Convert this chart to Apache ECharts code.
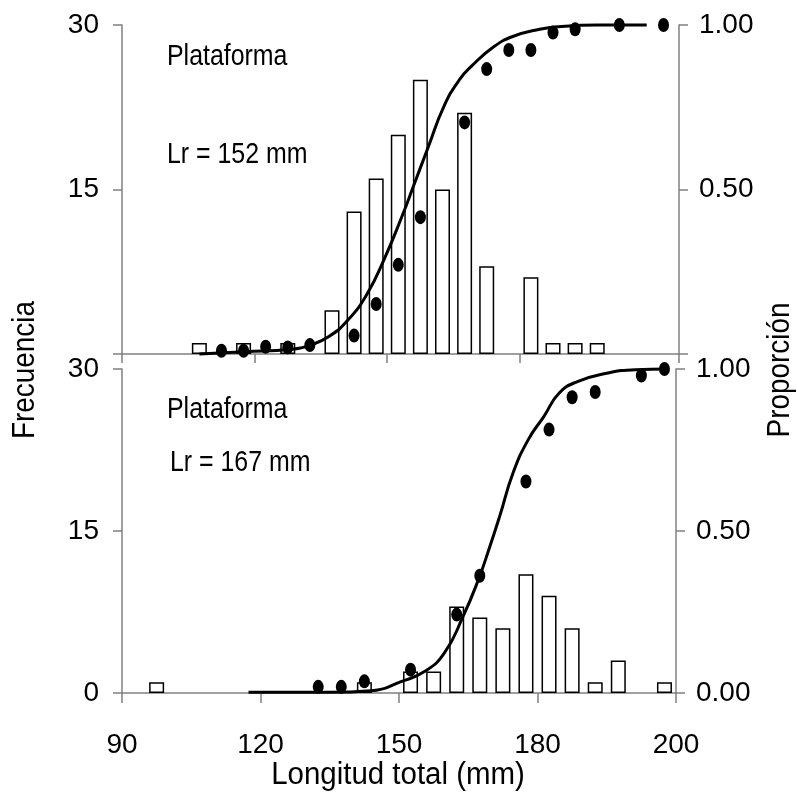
<!DOCTYPE html>
<html>
<head>
<meta charset="utf-8">
<script src="https://cdn.jsdelivr.net/npm/echarts@6/dist/echarts.min.js"></script>
<style>
html,body{margin:0;padding:0;background:#fff;}
#chart{width:797px;height:797px;}
</style>
</head>
<body>
<div id="chart"></div>
<script>
// ---- data ----
const topBarX = [107.5,117.5,127.5,137.5,142.5,147.5,152.5,157.5,162.5,167.5,172.5,182.5,187.5,192.5,197.5];
const topBarFreq = [1,1,1,4,13,16,20,25,15,22,8,7,1,1,1];
const topDotX = [112.5,117.5,122.5,127.5,132.5,142.5,147.5,152.5,157.5,167.5,172.5,177.5,182.5,187.5,192.5,202.5,212.5];
const topDotP = [0.01,0.01,0.022,0.02,0.027,0.056,0.152,0.271,0.416,0.704,0.866,0.924,0.924,0.977,0.987,1.0,1.0];
const topCurveX = [107.5,117.7,128.1,132.6,136.8,141.1,145.5,149.4,153.3,155.9,159.3,162.8,166.3,169.3,174.1,178.4,184.5,188.8,197.5,208.7];
const topCurveP = [0.0,0.007,0.014,0.027,0.053,0.103,0.184,0.291,0.417,0.509,0.63,0.752,0.833,0.878,0.934,0.965,0.987,0.995,1.0,1.0];

const botBarX = [97.5,142.5,152.5,157.5,162.5,167.5,172.5,177.5,182.5,187.5,192.5,197.5,207.5];
const botBarFreq = [1,1,2,2,8,7,6,11,9,6,1,3,1];
const botDotX = [132.5,137.5,142.5,152.5,162.5,167.5,177.5,182.5,187.5,192.5,202.5,207.5];
const botDotP = [0.019,0.019,0.036,0.072,0.242,0.362,0.653,0.813,0.913,0.929,0.98,1.0];
const botCurveX = [117.4,134.9,144.0,150.6,155.6,159.8,163.9,167.2,169.7,171.8,174.7,178.0,181.4,184.7,188.8,194.7,201.3,207.9];
const botCurveP = [0.002,0.002,0.007,0.036,0.067,0.123,0.237,0.35,0.453,0.545,0.679,0.782,0.854,0.926,0.962,0.986,0.998,1.0];

const topXTicks = [90,120,150,180,216];
const botXTicks = [90,120,150,180,210];
const xTickLabels = ['90','120','150','180','200'];
const freqTicksTop = ['', '15', '30'];
const freqTicksBot = ['0', '15', '30'];
const propTicksTop = ['', '0.50', '1.00'];
const propTicksBot = ['0.00', '0.50', '1.00'];

const panelTexts = [['Plataforma','Lr = 152 mm'],['Plataforma','Lr = 167 mm']];
const xTitle = 'Longitud total (mm)';
const yLeftTitle = 'Frecuencia';
const yRightTitle = 'Proporción';

// ---- styling ----
const FONT = '"Liberation Sans", Arial, sans-serif';
const axisGray = '#808080';
const zip = (a, b) => a.map((v, i) => [v, b[i]]);

function yAxis(grid, pos, max, interval, labels) {
  return {
    type: 'value', gridIndex: grid, position: pos, min: 0, max: max, interval: interval,
    axisLine: {show: true, lineStyle: {color: axisGray, width: 1.5}},
    axisTick: {show: true, inside: false, length: 9, lineStyle: {color: axisGray, width: 1.5}},
    splitLine: {show: false},
    axisLabel: {
      show: true, margin: pos === 'left' ? 23 : 20, color: '#000', fontFamily: FONT, fontSize: 28,
      formatter: (v) => labels[Math.round(v / interval)]
    }
  };
}

function txt(x, y, text, size, sx, rot, align) {
  return {
    type: 'text', x: x, y: y, rotation: rot || 0, scaleX: sx,
    style: {text: text, font: size + 'px ' + FONT, fill: '#000', textAlign: align || 'left', textVerticalAlign: 'middle'}
  };
}

const chart = echarts.init(document.getElementById('chart'), null, {renderer: 'canvas'});
const option = {
  animation: false,
  backgroundColor: '#fff',
  grid: [
    {left: 122, top: 25, width: 557, height: 329},
    {left: 122, top: 369, width: 554, height: 324}
  ],
  xAxis: [
    {
      type: 'value', gridIndex: 0, min: 90, max: 216,
      axisLine: {show: true, onZero: false, lineStyle: {color: axisGray, width: 1.5}},
      axisTick: {show: true, length: 9, customValues: topXTicks, lineStyle: {color: axisGray, width: 1.5}},
      axisLabel: {show: false},
      splitLine: {show: false}
    },
    {
      type: 'value', gridIndex: 1, min: 90, max: 210,
      axisLine: {show: true, onZero: false, lineStyle: {color: axisGray, width: 1.5}},
      axisTick: {show: true, length: 10, customValues: botXTicks, lineStyle: {color: axisGray, width: 1.5}},
      axisLabel: {
        show: true, margin: 38, customValues: botXTicks, color: '#000', fontFamily: FONT, fontSize: 28,
        formatter: (v) => xTickLabels[botXTicks.indexOf(v)]
      },
      splitLine: {show: false}
    }
  ],
  yAxis: [
    yAxis(0, 'left', 30, 15, freqTicksTop),
    yAxis(0, 'right', 1, 0.5, propTicksTop),
    yAxis(1, 'left', 30, 15, freqTicksBot),
    yAxis(1, 'right', 1, 0.5, propTicksBot)
  ],
  series: [
    {
      type: 'bar', xAxisIndex: 0, yAxisIndex: 0, data: zip(topBarX, topBarFreq), barWidth: 15,
      itemStyle: {color: '#fff', borderColor: '#000', borderWidth: 1.5}, z: 2
    },
    {
      type: 'line', xAxisIndex: 0, yAxisIndex: 1, data: zip(topCurveX, topCurveP), smooth: 0.5,
      showSymbol: false, symbol: 'none', clip: false,
      lineStyle: {color: '#000', width: 3}, z: 3
    },
    {
      type: 'scatter', xAxisIndex: 0, yAxisIndex: 1, data: zip(topDotX, topDotP), symbol: 'circle',
      symbolSize: [11, 14], itemStyle: {color: '#000', opacity: 1}, clip: false, z: 4
    },
    {
      type: 'bar', xAxisIndex: 1, yAxisIndex: 2, data: zip(botBarX, botBarFreq), barWidth: 15,
      itemStyle: {color: '#fff', borderColor: '#000', borderWidth: 1.5}, z: 2
    },
    {
      type: 'line', xAxisIndex: 1, yAxisIndex: 3, data: zip(botCurveX, botCurveP), smooth: 0.5,
      showSymbol: false, symbol: 'none', clip: false,
      lineStyle: {color: '#000', width: 3}, z: 3
    },
    {
      type: 'scatter', xAxisIndex: 1, yAxisIndex: 3, data: zip(botDotX, botDotP), symbol: 'circle',
      symbolSize: [11, 14], itemStyle: {color: '#000', opacity: 1}, clip: false, z: 4
    }
  ],
  graphic: [
    txt(167, 57, panelTexts[0][0], 30, 0.83),
    txt(167, 155, panelTexts[0][1], 30, 0.83),
    txt(167, 410, panelTexts[1][0], 30, 0.83),
    txt(170, 463, panelTexts[1][1], 30, 0.83),
    txt(398, 775, xTitle, 31, 0.95, 0, 'center'),
    txt(25, 370, yLeftTitle, 31, 0.9, Math.PI / 2, 'center'),
    txt(780, 370, yRightTitle, 31, 0.9, Math.PI / 2, 'center')
  ]
};
chart.setOption(option);
</script>
</body>
</html>
